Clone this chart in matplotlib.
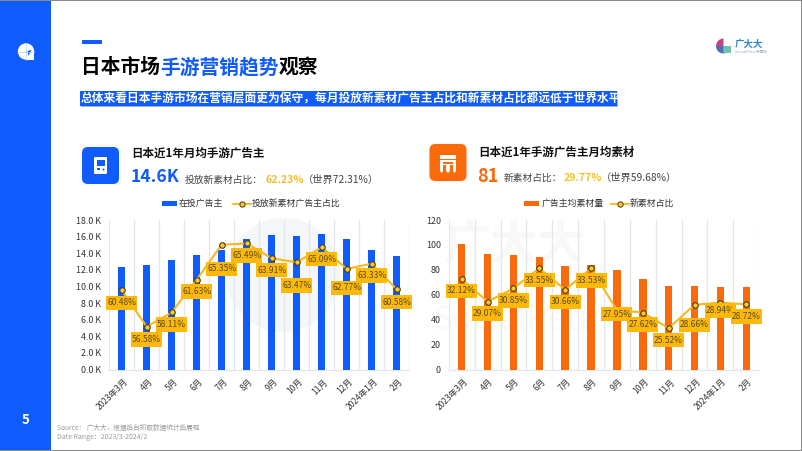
import matplotlib
matplotlib.use('Agg')
import matplotlib.pyplot as plt
from matplotlib.path import Path
from matplotlib.patches import Rectangle, FancyBboxPatch, Circle, Wedge, Polygon

plt.rcParams['font.family'] = ['Noto Sans CJK SC', 'DejaVu Sans']

months = ['2023年3月', '4月', '5月', '6月', '7月', '8月', '9月', '10月', '11月', '12月', '2024年1月', '2月']

advertisers = [12.3, 12.6, 13.2, 13.8, 14.4, 15.7, 16.2, 16.1, 16.3, 15.7, 14.4, 13.7]
advertiser_share = [60.48, 56.58, 58.11, 61.63, 65.35, 65.49, 63.91, 63.47, 65.09, 62.77, 63.33, 60.58]
advertiser_yticks = [0, 2, 4, 6, 8, 10, 12, 14, 16, 18]

creatives = [101, 93, 92, 90, 83, 84, 80, 73, 67, 67, 66, 66]
creative_share = [32.12, 29.07, 30.85, 33.55, 30.66, 33.53, 27.95, 27.62, 25.52, 28.66, 28.94, 28.72]
creative_yticks = [0, 20, 40, 60, 80, 100, 120]

# label offset below the point, in px
left_offsets = [12.7, 13, 12, 12, 24, 12, 12, 23, 12, 19, 12, 12.7]
right_offsets = [12, 12, 12, 12, 12, 12, 4, 12, 12, 20, 8, 12]

BLUE = '#0f5bfb'
ORANGE = '#fb6a0a'
GOLD = '#f5b81f'
LABEL_BG = '#fdb90a'
W, H = 802, 451


def label_box(x0, y0, width, height, mutation_size):
    # fixed 31x14.5 px box round the label text
    cx, cy = x0 + width / 2, y0 + height / 2
    return Path([(cx - 15.5, cy - 7.25), (cx + 15.5, cy - 7.25), (cx + 15.5, cy + 7.25),
                 (cx - 15.5, cy + 7.25), (cx - 15.5, cy - 7.25)], closed=True)


fig = plt.figure(figsize=(W / 100, H / 100), dpi=100)
bg = fig.add_axes([0, 0, 1, 1])
bg.set_xlim(0, W)
bg.set_ylim(H, 0)
bg.axis('off')

# slide frame
bg.add_patch(Rectangle((0, 0), 51, H, color=BLUE, lw=0))
bg.add_patch(Rectangle((0, 0), W, 1, color='#8a8a8a', lw=0))
bg.add_patch(Rectangle((801, 0), 1, H, color='#8a8a8a', lw=0))
bg.add_patch(Rectangle((0, 450), W, 1, color='#8a8a8a', lw=0))
bg.add_patch(Rectangle((82, 39.5), 20, 4, color=BLUE, lw=0))

# sidebar logo
bg.add_patch(Circle((26, 51.5), 8.2, color='white', lw=0))
bg.add_patch(Rectangle((26, 51.5), 8.2, 8.2, color='white', lw=0))
bg.plot([18, 34], [51.5, 51.5], color='#b9cdfb', lw=0.5)
bg.plot([26, 26], [43.5, 59.5], color='#b9cdfb', lw=0.5)
bg.add_patch(Polygon([(27.5, 51), (31.5, 50), (28.5, 56)], color=BLUE, lw=0))
bg.text(26, 419.5, '5', color='white', fontsize=9.5, fontweight='bold', ha='center', va='center')

# title
x = 81.5
for part, col in [('日本市场', 'black'), ('手游营销趋势', BLUE), ('观察', 'black')]:
    bg.text(x, 67.5, part, color=col, fontsize=14.2, fontweight='bold', va='center')
    x += 19.7 * len(part)

# banner
bg.add_patch(Rectangle((81, 92), 537, 14.5, color='#5b78b8', lw=0, alpha=0.6))
bg.add_patch(Rectangle((80, 91), 537, 14.5, color=BLUE, lw=0))
bg.text(80.5, 98.3, '总体来看日本手游市场在营销层面更为保守，每月投放新素材广告主占比和新素材占比都远低于世界水平',
        color='white', fontsize=8.45, fontweight='bold', va='center')

# brand logo, top right
cx, cy, r = 723.5, 46, 7.5
bg.add_patch(Wedge((cx, cy), r, 90, 180, color='#4a6fb8', lw=0))
bg.add_patch(Wedge((cx, cy), r, 180, 270, color='#c8447f', lw=0))
bg.add_patch(Wedge((cx, cy), r, 0, 90, color='#3f88d0', lw=0))
bg.add_patch(Rectangle((cx, cy), 7, 7, color='#6cc4a8', lw=0))
bg.text(735, 44, '广大大', color='#2b86d8', fontsize=6.8, fontweight='bold', va='center')
bg.text(735, 52, 'SocialPeta 中国版', color='#9aa7b5', fontsize=2.8, va='center')

# icons
for ix, iy, col in [(82, 147, BLUE), (429.5, 144, ORANGE)]:
    for grow, alpha in [(5, 0.03), (3, 0.04), (1.5, 0.05)]:
        bg.add_patch(FancyBboxPatch((ix + 3 - grow, iy + 3 - grow), 31 + 2 * grow, 31 + 2 * grow,
                                    boxstyle='round,pad=0,rounding_size=6', color=col, alpha=alpha, lw=0))
    bg.add_patch(FancyBboxPatch((ix, iy), 37, 37, boxstyle='round,pad=0,rounding_size=6', color=col, lw=0))
bg.add_patch(FancyBboxPatch((94, 157), 13, 17, boxstyle='round,pad=0,rounding_size=1.2', color='white', lw=0))
bg.add_patch(Rectangle((96.5, 159.5), 8, 6, color=BLUE, lw=0))
bg.add_patch(Rectangle((96.5, 168), 3, 1.5, color=BLUE, lw=0))
bg.add_patch(Circle((103.5, 169.5), 1, color=BLUE, lw=0))
bg.add_patch(Rectangle((440, 155), 16, 3.5, color='white', lw=0))
bg.add_patch(Rectangle((440, 160), 16, 2, color='white', lw=0))
bg.add_patch(Rectangle((441, 163.5), 14, 1.6, color='white', lw=0))
bg.add_patch(Polygon([(440, 160), (443, 160), (443, 171), (441.5, 173), (440, 171)], color='white', lw=0))
bg.add_patch(Polygon([(453, 160), (456, 160), (456, 171), (454.5, 173), (453, 171)], color='white', lw=0))
bg.add_patch(Polygon([(446, 165), (450, 165), (450, 171), (448, 173), (446, 171)], color='white', lw=0))

# card headings
bg.text(131, 153, '日本近1年月均手游广告主', color='#111111', fontsize=8.3, fontweight='bold', va='center')
bg.text(130.5, 176.5, '14.6K', color=BLUE, fontsize=12.6, fontweight='bold', va='center')
bg.text(185, 180, '投放新素材占比：', color='#444444', fontsize=7.0, va='center')
bg.text(265, 180, '62.23%', color='#f7bd32', fontsize=7.6, fontweight='bold', va='center')
bg.text(303, 180, '（世界72.31%）', color='#444444', fontsize=7.4, va='center', ha='left')

bg.text(478, 152.5, '日本近1年手游广告主月均素材', color='#111111', fontsize=8.3, fontweight='bold', va='center')
bg.text(477.5, 176.5, '81', color=ORANGE, fontsize=13, fontweight='bold', va='center')
bg.text(504, 178, '新素材占比：', color='#444444', fontsize=7.0, va='center')
bg.text(564, 178, '29.77%', color='#f2c62a', fontsize=7.6, fontweight='bold', va='center')
bg.text(601, 178, '（世界59.68%）', color='#444444', fontsize=7.4, va='center')

# watermark
bg.add_patch(Circle((283, 275), 57, color='#f5f6f8', lw=0))
bg.text(515, 245, '广大大', color='#f8f8f8', fontsize=34, fontweight='bold', va='center', ha='center')
bg.text(515, 320, 'SocialPeta', color='#f9f9f9', fontsize=24, va='center', ha='center')

# source
bg.text(57, 428, 'Source： 广大大，根据后台抓取数据统计后展现', color='#9a9a9a', fontsize=4.8, va='center')
bg.text(57, 437, 'Date Range：2023/3-2024/2', color='#9a9a9a', fontsize=5.0, va='center')


def draw_chart(box, values, share, yticks, ylim, share_lim, fmt, bar_col, offsets, bar_w):
    left, right = box
    top, bottom = 220, 369.5
    ax = fig.add_axes([left / W, 1 - bottom / H, (right - left) / W, (bottom - top) / H])
    ax.patch.set_alpha(0)
    pos = list(range(len(months)))
    ax.bar(pos, values, width=bar_w, color=bar_col, zorder=3)
    ax.set_xlim(-0.5, len(months) - 0.5)
    ax.set_ylim(*ylim)
    ax.set_yticks(yticks)
    ax.set_yticklabels([fmt(v) for v in yticks], fontsize=6.4, color='#333333')
    ax.set_xticks([p - 0.5 for p in pos] + [len(months) - 0.5], minor=False)
    ax.set_xticklabels([''] * (len(months) + 1))
    ax.tick_params(axis='y', length=0, pad=5.8)
    ax.tick_params(axis='x', length=0)
    ax.grid(axis='x', color='#e3e6ec', lw=0.9, zorder=0)
    for side in ['top', 'left', 'right']:
        ax.spines[side].set_visible(False)
    ax.spines['bottom'].set_color('#e3e6ec')
    ax.spines['bottom'].set_linewidth(0.9)
    for p, m in zip(pos, months):
        ax.annotate(m, (p, 0), xytext=(1, -5.5), textcoords='offset points', rotation=45,
                    ha='right', va='top', rotation_mode='anchor', fontsize=6.1, color='#333333')

    ax2 = ax.twinx()
    ax2.set_ylim(*share_lim)
    ax2.axis('off')
    ax2.plot(pos, share, color=GOLD, lw=1.5, marker='o', ms=4, mfc='#f8c92a',
             mec='#4a3a10', mew=0.8, zorder=4)
    for p, v, off in zip(pos, share, offsets):
        ax2.annotate(f'{v:.2f}%', (p, v), xytext=(0, -off * 0.72), textcoords='offset points',
                     ha='center', va='center', fontsize=6.1, color='#5a4a16', zorder=5,
                     bbox=dict(boxstyle=label_box, fc=LABEL_BG, ec='none'),
                     annotation_clip=False)
    return ax


draw_chart((109.2, 409.2), advertisers, advertiser_share, advertiser_yticks, (0, 18), (52, 68),
           lambda v: f'{v:.1f} K', BLUE, left_offsets, 0.29)
draw_chart((448.8, 759.2), creatives, creative_share, creative_yticks, (0, 120), (20, 40),
           lambda v: f'{v}', ORANGE, right_offsets, 0.29)

# legends
top = fig.add_axes([0, 0, 1, 1])
top.set_xlim(0, W)
top.set_ylim(H, 0)
top.axis('off')
top.patch.set_alpha(0)
top.add_patch(Rectangle((161.5, 201), 15, 5, color=BLUE, lw=0))
top.text(178.5, 203.5, '在投广告主', fontsize=6.4, color='#333333', va='center')
top.plot([233, 251], [203.5, 203.5], color=GOLD, lw=1.3)
top.plot([242], [203.5], marker='o', ms=3.8, mfc='#f8c92a', mec='#4a3a10', mew=0.7)
top.text(252, 203.5, '投放新素材广告主占比', fontsize=6.4, color='#333333', va='center')
top.add_patch(Rectangle((524, 201), 15, 5, color=ORANGE, lw=0))
top.text(541.5, 203.5, '广告主均素材量', fontsize=6.4, color='#333333', va='center')
top.plot([611, 629], [203.5, 203.5], color=GOLD, lw=1.3)
top.plot([620], [203.5], marker='o', ms=3.8, mfc='#f8c92a', mec='#4a3a10', mew=0.7)
top.text(630, 203.5, '新素材占比', fontsize=6.4, color='#333333', va='center')

fig.savefig('out.png', dpi=100)
